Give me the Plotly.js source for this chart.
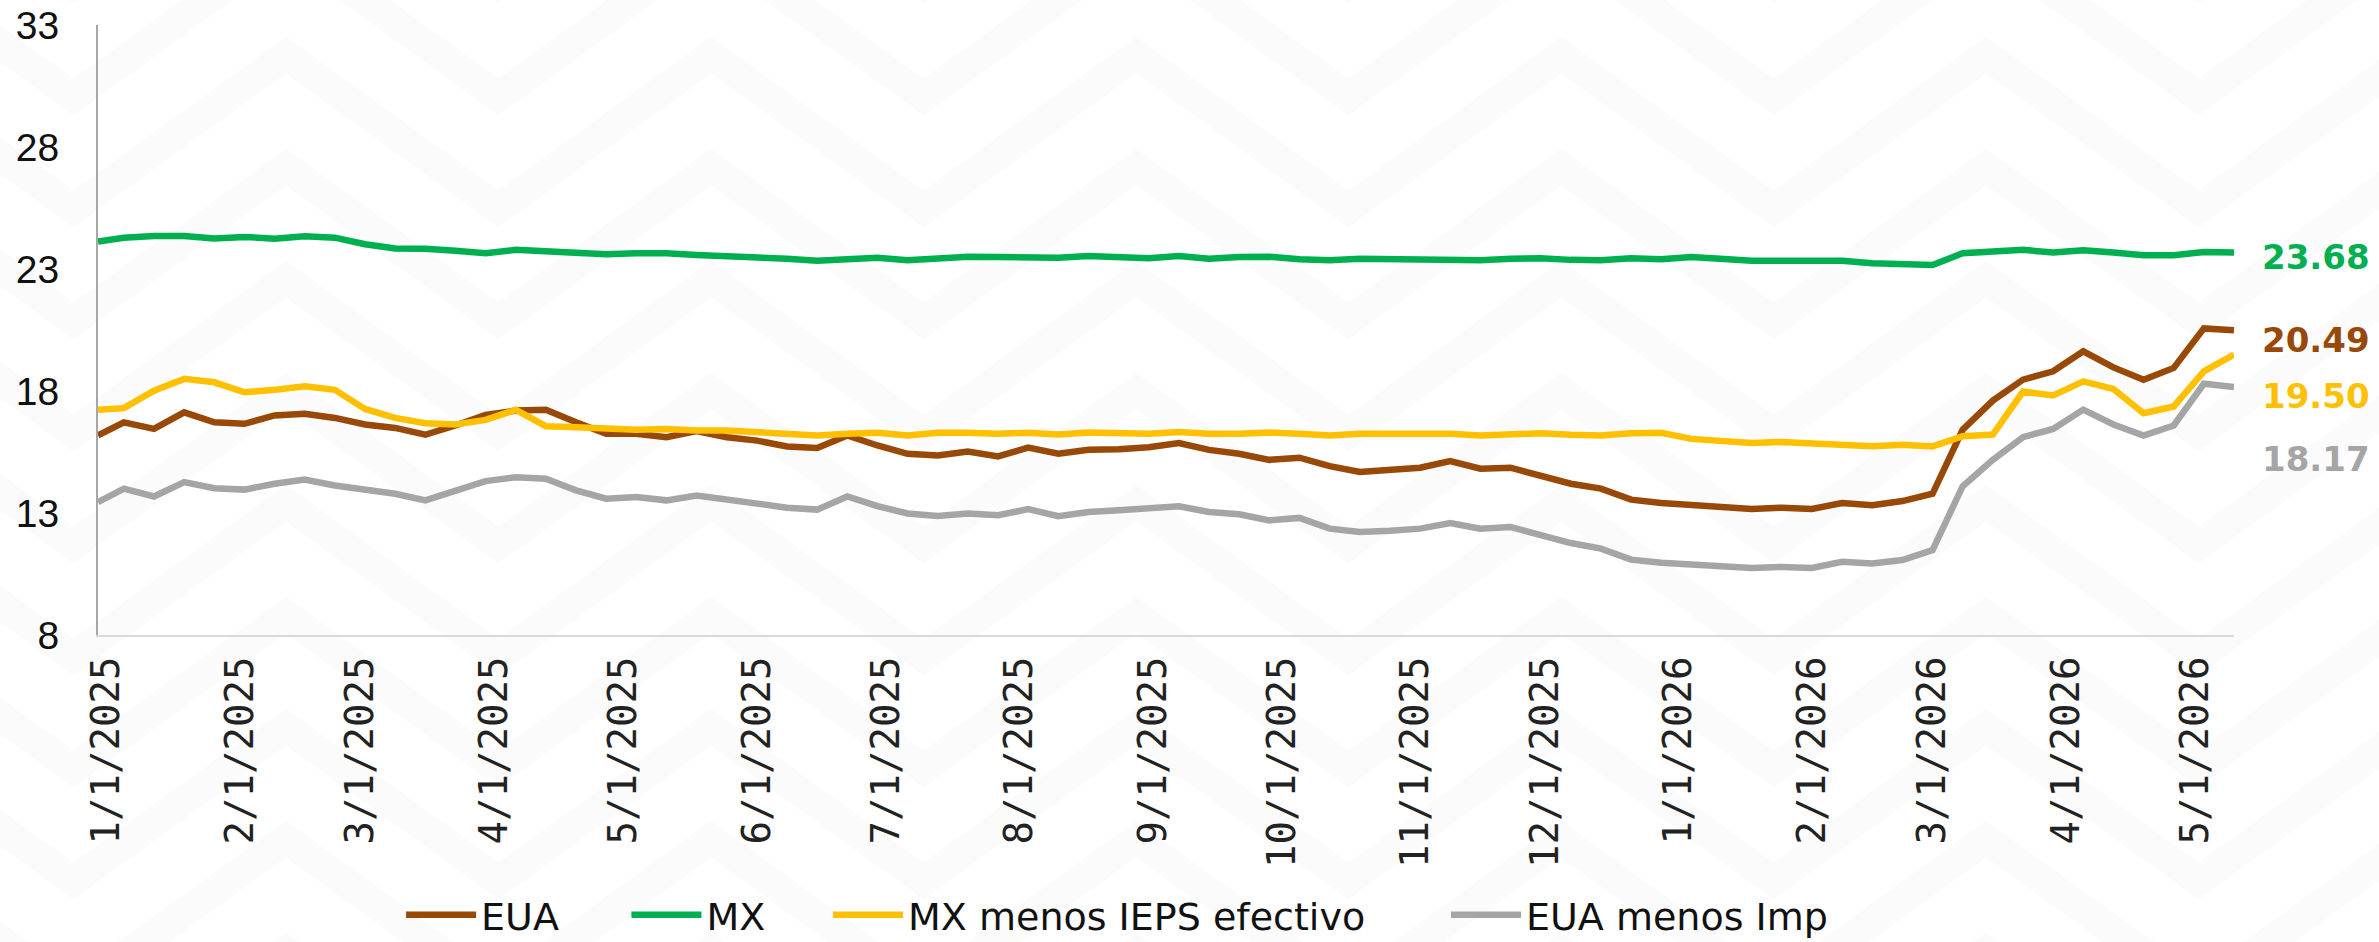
<!DOCTYPE html>
<html>
<head>
<meta charset="utf-8">
<script src="https://cdn.plot.ly/plotly-3.0.1.min.js"></script>
<style>html,body{margin:0;padding:0;background:#fff;}#chart{width:2379px;height:942px;}</style>
</head>
<body>
<div id="chart"></div>
<script>
const dates = [
 "2024-12-30",
 "2025-01-05","2025-01-12","2025-01-19","2025-01-26",
 "2025-02-02","2025-02-09","2025-02-16","2025-02-23",
 "2025-03-02","2025-03-09","2025-03-16","2025-03-23","2025-03-30",
 "2025-04-06","2025-04-13","2025-04-20","2025-04-27",
 "2025-05-04","2025-05-11","2025-05-18","2025-05-25",
 "2025-06-01","2025-06-08","2025-06-15","2025-06-22","2025-06-29",
 "2025-07-06","2025-07-13","2025-07-20","2025-07-27",
 "2025-08-03","2025-08-10","2025-08-17","2025-08-24","2025-08-31",
 "2025-09-07","2025-09-14","2025-09-21","2025-09-28",
 "2025-10-05","2025-10-12","2025-10-19","2025-10-26",
 "2025-11-02","2025-11-09","2025-11-16","2025-11-23","2025-11-30",
 "2025-12-07","2025-12-14","2025-12-21","2025-12-28",
 "2026-01-04","2026-01-11","2026-01-18","2026-01-25",
 "2026-02-01","2026-02-08","2026-02-15","2026-02-22",
 "2026-03-01","2026-03-08","2026-03-15","2026-03-22","2026-03-29",
 "2026-04-05","2026-04-12","2026-04-19","2026-04-26",
 "2026-05-03","2026-05-10"
];

const seriesNames = ["EUA", "MX", "MX menos IEPS efectivo", "EUA menos Imp"];

const eua = [
 16.18,16.72,16.45,17.13,16.72,16.66,17.00,17.07,16.90,16.63,16.49,
 16.21,16.59,17.02,17.20,17.23,16.72,16.25,16.25,16.11,16.36,
 16.11,15.97,15.73,15.67,16.18,15.77,15.43,15.36,15.52,15.32,
 15.68,15.43,15.59,15.62,15.70,15.87,15.59,15.43,15.18,15.27,
 14.92,14.68,14.75,14.86,15.13,14.82,14.86,14.54,14.20,14.00,
 13.55,13.41,13.32,13.22,13.17,13.22,13.17,13.41,13.32,13.49,
 13.79,16.42,17.61,18.47,18.81,19.63,18.97,18.46,18.95,20.57,20.49
];

const mx = [
 24.13,24.29,24.36,24.36,24.26,24.32,24.25,24.35,24.29,24.02,23.85,
 23.84,23.75,23.65,23.79,23.75,23.68,23.61,23.65,23.65,23.58,
 23.55,23.50,23.43,23.34,23.43,23.47,23.36,23.43,23.51,23.50,
 23.50,23.47,23.54,23.47,23.45,23.54,23.43,23.50,23.51,23.41,
 23.36,23.43,23.41,23.43,23.43,23.36,23.43,23.45,23.38,23.36,
 23.45,23.41,23.50,23.43,23.34,23.34,23.31,23.34,23.24,23.20,
 23.17,23.65,23.72,23.79,23.68,23.77,23.68,23.57,23.57,23.70,23.68
];

const mxSinIeps = [
 17.23,17.30,18.02,18.50,18.36,17.95,18.05,18.20,18.05,17.27,16.90,
 16.68,16.63,16.82,17.23,16.56,16.52,16.45,16.41,16.45,16.38,
 16.38,16.32,16.25,16.18,16.25,16.29,16.18,16.29,16.29,16.25,
 16.29,16.22,16.30,16.25,16.25,16.32,16.25,16.25,16.30,16.25,
 16.18,16.25,16.25,16.21,16.25,16.18,16.25,16.27,16.21,16.18,
 16.27,16.29,16.04,15.97,15.87,15.91,15.87,15.80,15.74,15.80,
 15.73,16.15,16.22,17.98,17.82,18.40,18.09,17.09,17.37,18.81,19.50
];

const euaSinImp = [
 13.45,14.00,13.68,14.27,14.02,13.96,14.20,14.37,14.13,13.96,13.79,
 13.52,13.93,14.31,14.47,14.41,13.93,13.59,13.66,13.52,13.72,
 13.55,13.39,13.22,13.14,13.68,13.28,12.98,12.88,12.98,12.91,
 13.16,12.87,13.04,13.11,13.18,13.28,13.04,12.95,12.70,12.80,
 12.36,12.22,12.27,12.36,12.59,12.36,12.43,12.09,11.77,11.54,
 11.09,10.96,10.90,10.82,10.75,10.79,10.75,11.00,10.93,11.07,
 11.48,14.10,15.18,16.11,16.45,17.24,16.63,16.18,16.59,18.30,18.17
];

const yTicks = [8, 13, 18, 23, 28, 33];

const colors = ["#984807", "#00B050", "#FFC000", "#A5A5A5"];
const allSeries = [eua, mx, mxSinIeps, euaSinImp];
const labelShift = [-9.5, -4.5, -41, -72];
const legendIds = ["legend", "legend2", "legend3", "legend4"];
const legendX = [0.1419, 0.2474, 0.3418, 0.6311];

const traces = allSeries.map((vals, k) => ({
  type: "scatter",
  mode: "lines",
  name: seriesNames[k],
  legend: legendIds[k],
  x: dates,
  y: vals,
  line: {color: colors[k], width: 6.5},
  hoverinfo: "skip"
}));

const lastDate = dates[dates.length - 1];
const annotations = allSeries.map((vals, k) => ({
  x: lastDate,
  y: vals[vals.length - 1],
  xref: "x", yref: "y",
  text: vals[vals.length - 1].toFixed(2),
  showarrow: false,
  xanchor: "left",
  yanchor: "middle",
  xshift: 26,
  yshift: labelShift[k],
  font: {family: "DejaVu Sans", size: 34, color: colors[k], weight: 700}
}));

// faint decorative chevron watermark (background only)
const L = 98, W = 2136, B = 635, H = 610;
const px = X => ((X - L) / W).toFixed(4);
const py = Y => ((B - Y) / H).toFixed(4);
const shapes = [];
for (let k = -2; k <= 8; k++) {
  const c = 55 + 112 * k;
  let d = "";
  for (let j = -1; j <= 6; j++) {
    const xp = 286 + 425 * j, xv = xp + 212.5;
    d += (d ? " L " : "M ") + px(xp) + "," + py(c) + " L " + px(xv) + "," + py(c + 154);
  }
  shapes.push({type: "path", xref: "paper", yref: "paper", path: d, layer: "below",
    line: {color: "#fbfbfb", width: 30}});
}

const legendBase = {
  orientation: "h",
  xanchor: "left",
  y: -0.4590, yanchor: "middle",
  font: {family: "DejaVu Sans", size: 38, color: "#111111"},
  itemwidth: 70,
  bgcolor: "rgba(0,0,0,0)"
};

const layout = {
  width: 2379,
  height: 942,
  paper_bgcolor: "#ffffff",
  plot_bgcolor: "rgba(0,0,0,0)",
  margin: {l: 98, r: 145, t: 25, b: 307, autoexpand: false},
  showlegend: true,
  legend: Object.assign({}, legendBase, {x: legendX[0]}),
  legend2: Object.assign({}, legendBase, {x: legendX[1]}),
  legend3: Object.assign({}, legendBase, {x: legendX[2]}),
  legend4: Object.assign({}, legendBase, {x: legendX[3]}),
  xaxis: {
    type: "date",
    range: ["2024-12-30", "2026-05-10"],
    tickmode: "linear",
    tick0: "2025-01-01",
    dtick: "M1",
    tickformat: "%-m/%-d/%Y",
    tickangle: -90,
    showgrid: false,
    zeroline: false,
    showline: true,
    linecolor: "#d9d9d9",
    linewidth: 2,
    ticks: "",
    automargin: false,
    ticklabelstandoff: 4,
    tickfont: {family: "DejaVu Sans Mono", size: 39, color: "#222222"}
  },
  yaxis: {
    range: [7.999, 33.01],
    tickmode: "array",
    tickvals: yTicks,
    ticktext: yTicks.map(String),
    showgrid: false,
    zeroline: false,
    showline: true,
    linecolor: "#a6a6a6",
    linewidth: 2,
    ticks: "",
    automargin: false,
    ticklabeloverflow: "allow",
    ticklabelstandoff: 29,
    tickfont: {family: "Liberation Sans", size: 39, color: "#111111"}
  },
  shapes: shapes,
  annotations: annotations
};

Plotly.newPlot("chart", traces, layout, {displayModeBar: false, staticPlot: true});
</script>
</body>
</html>
